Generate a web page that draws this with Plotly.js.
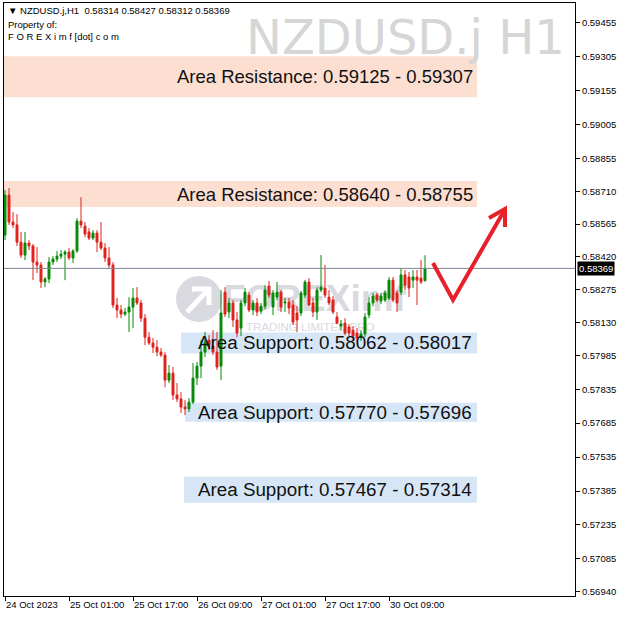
<!DOCTYPE html>
<html>
<head>
<meta charset="utf-8">
<script src="https://cdn.plot.ly/plotly-3.0.1.min.js"></script>
<style>html,body{margin:0;padding:0;background:#fff;}#chart{width:621px;height:618px;}</style>
</head>
<body>
<div id="chart"></div>
<script>
// ---- data (NZDUSD.j, H1) ----
const symbol = "NZDUSD.j";
const period = "H1";
const open = [0.58516,0.58693,0.58574,0.58561,0.58485,0.58428,0.58481,0.58468,0.58397,0.58384,
0.58309,0.58322,0.58397,0.58410,0.58423,0.58432,0.58441,0.58415,0.58446,0.58578,
0.58556,0.58530,0.58503,0.58525,0.58485,0.58459,0.58415,0.58384,0.58207,0.58185,
0.58167,0.58176,0.58198,0.58238,0.58216,0.58149,0.58065,0.58039,0.58021,0.57999,
0.57986,0.57875,0.57906,0.57809,0.57792,0.57756,0.57748,0.57778,0.57884,0.57937,
0.57999,0.58052,0.58026,0.57999,0.57937,0.58264,0.58176,0.58216,0.58141,0.58105,
0.58216,0.58251,0.58185,0.58216,0.58180,0.58202,0.58291,0.58198,0.58242,0.58264,
0.58216,0.58220,0.58207,0.58172,0.58172,0.58251,0.58309,0.58216,0.58176,0.58273,
0.58282,0.58242,0.58229,0.58154,0.58114,0.58127,0.58110,0.58096,0.58083,0.58061,
0.58079,0.58163,0.58216,0.58251,0.58225,0.58229,0.58238,0.58317,0.58260,0.58264,
0.58340,0.58331,0.58317,0.58331,0.58326,0.58314];
const high = [0.58715,0.58724,0.58618,0.58609,0.58530,0.58530,0.58494,0.58477,0.58463,0.58397,
0.58331,0.58419,0.58423,0.58446,0.58450,0.58450,0.58459,0.58454,0.58591,0.58684,
0.58574,0.58547,0.58538,0.58538,0.58574,0.58481,0.58463,0.58397,0.58238,0.58207,
0.58194,0.58242,0.58282,0.58286,0.58229,0.58167,0.58088,0.58061,0.58052,0.58017,
0.57999,0.57942,0.57933,0.57862,0.57822,0.57787,0.57796,0.57951,0.57955,0.58052,
0.58088,0.58074,0.58096,0.58088,0.58273,0.58286,0.58238,0.58229,0.58176,0.58229,
0.58282,0.58264,0.58229,0.58238,0.58216,0.58295,0.58313,0.58273,0.58309,0.58273,
0.58238,0.58238,0.58229,0.58202,0.58269,0.58317,0.58326,0.58238,0.58286,0.58428,
0.58384,0.58273,0.58247,0.58176,0.58141,0.58149,0.58123,0.58114,0.58105,0.58096,
0.58172,0.58242,0.58260,0.58260,0.58260,0.58273,0.58331,0.58331,0.58273,0.58370,
0.58362,0.58353,0.58362,0.58362,0.58406,0.58427];
const low = [0.58494,0.58561,0.58547,0.58468,0.58415,0.58406,0.58450,0.58317,0.58348,0.58282,
0.58286,0.58304,0.58384,0.58397,0.58410,0.58317,0.58406,0.58393,0.58437,0.58547,
0.58507,0.58494,0.58494,0.58441,0.58450,0.58397,0.58370,0.58194,0.58149,0.58149,
0.58158,0.58088,0.58105,0.58207,0.58132,0.58030,0.58030,0.57995,0.57981,0.57977,
0.57844,0.57862,0.57787,0.57778,0.57730,0.57721,0.57734,0.57769,0.57853,0.57884,
0.57977,0.58008,0.57986,0.57920,0.57875,0.58154,0.58149,0.58110,0.58065,0.58070,
0.58202,0.58176,0.58163,0.58158,0.58167,0.58189,0.58238,0.58163,0.58229,0.58176,
0.58176,0.58167,0.58119,0.58088,0.58158,0.58238,0.58202,0.58154,0.58141,0.58264,
0.58238,0.58207,0.58167,0.58123,0.58096,0.58074,0.58070,0.58052,0.58043,0.58048,
0.58065,0.58149,0.58202,0.58220,0.58211,0.58220,0.58229,0.58220,0.58176,0.58251,
0.58273,0.58242,0.58282,0.58207,0.58300,0.58312];
const close = [0.58693,0.58574,0.58561,0.58485,0.58428,0.58481,0.58468,0.58397,0.58384,0.58309,
0.58322,0.58397,0.58410,0.58423,0.58432,0.58441,0.58415,0.58446,0.58578,0.58561,
0.58521,0.58503,0.58525,0.58485,0.58459,0.58415,0.58384,0.58207,0.58185,0.58167,
0.58176,0.58198,0.58238,0.58216,0.58149,0.58065,0.58039,0.58021,0.57999,0.57986,
0.57875,0.57906,0.57809,0.57792,0.57756,0.57748,0.57778,0.57884,0.57937,0.57999,
0.58043,0.58026,0.57999,0.57933,0.58172,0.58167,0.58216,0.58141,0.58083,0.58216,
0.58264,0.58185,0.58216,0.58176,0.58202,0.58273,0.58251,0.58260,0.58264,0.58198,
0.58220,0.58194,0.58132,0.58141,0.58260,0.58309,0.58207,0.58176,0.58273,0.58286,
0.58251,0.58216,0.58176,0.58127,0.58123,0.58083,0.58083,0.58070,0.58061,0.58079,
0.58154,0.58216,0.58247,0.58229,0.58247,0.58260,0.58317,0.58229,0.58216,0.58340,
0.58295,0.58282,0.58331,0.58317,0.58309,0.58369];

const timeTickBars = [0, 16, 32, 48, 64, 80, 96];
const timeTickLabels = ["24 Oct 2023","25 Oct 01:00","25 Oct 17:00","26 Oct 09:00","27 Oct 01:00","27 Oct 17:00","30 Oct 09:00"];
const priceTicks = [0.59455,0.59305,0.59155,0.59005,0.58855,0.58710,0.58565,0.58420,0.58275,0.58130,0.57985,0.57835,0.57685,0.57535,0.57385,0.57235,0.57085,0.56940];

const resistLow  = [0.59125, 0.58640];
const resistHigh = [0.59307, 0.58755];
const supportA   = [0.58062, 0.57770, 0.57467];
const supportB   = [0.58017, 0.57696, 0.57314];

// ---- layout geometry ----
const W = 621, H = 618;
const PL = 4, PR = 575, PT = 3, PB = 596;
const bars = open.map((_, i) => i);
const xr = [-0.25, 142.5];
const yr = [0.56921, 0.59542];
const fx = px => xr[0] + (px - PL) / (PR - PL) * (xr[1] - xr[0]);
const fy = py => yr[1] - (py - PT) / (PB - PT) * (yr[1] - yr[0]);
const ppx = px => (px - PL) / (PR - PL);
const ppy = py => 1 - (py - PT) / (PB - PT);
const pricePerPx = (yr[1] - yr[0]) / (PB - PT);

const FONT = "Liberation Sans, Arial, sans-serif";
const last = open.length - 1;
const f5 = v => v.toFixed(5);

const traces = [];
// faint logo watermark (base subplot, beneath candles)
traces.push({
  type: 'scatter', mode: 'text', xaxis: 'x', yaxis: 'y',
  x: [fx(223), fx(246)], y: [fy(302), fy(328)],
  text: ['FOREXimf', 'TRADING LIMITED PRO'],
  textposition: ['middle right', 'middle right'],
  textfont: {family: FONT, size: [37, 11.5], color: '#d9d9e0', weight: [700, 400]},
  hoverinfo: 'skip', showlegend: false
});
// candles (overlay subplot, on top)
traces.push({
  type: 'candlestick', xaxis: 'x2', yaxis: 'y2',
  x: bars, open: open, high: high, low: low, close: close,
  increasing: {line: {color: '#078a07', width: 1}, fillcolor: '#078a07'},
  decreasing: {line: {color: '#e0221d', width: 1}, fillcolor: '#e0221d'},
  whiskerwidth: 0, hoverinfo: 'skip', showlegend: false
});

const shapes = [];
// resistance zones
for (let i = 0; i < resistLow.length; i++) {
  shapes.push({type: 'rect', layer: 'below', xref: 'x', yref: 'y',
    x0: xr[0], x1: fx(477), y0: resistLow[i], y1: resistHigh[i],
    fillcolor: '#fcdfd1', line: {width: 0}});
}
// support label boxes
const supLeft = [181, 185, 184];
const supHalf = [10.5, 9.5, 13];
for (let i = 0; i < supportA.length; i++) {
  const mid = (supportA[i] + supportB[i]) / 2;
  shapes.push({type: 'rect', layer: 'below', xref: 'x', yref: 'y',
    x0: fx(supLeft[i]), x1: fx(477), y0: mid - supHalf[i] * pricePerPx, y1: mid + supHalf[i] * pricePerPx,
    fillcolor: '#d6e6f6', line: {width: 0}});
}
// logo circle
shapes.push({type: 'circle', layer: 'below', xref: 'paper', yref: 'paper',
  x0: ppx(176), x1: ppx(222), y0: ppy(322), y1: ppy(276), fillcolor: '#d9d9e0', line: {width: 0}});
shapes.push({type: 'path', layer: 'below', xref: 'paper', yref: 'paper',
  path: `M ${ppx(187)} ${ppy(312)} L ${ppx(207)} ${ppy(291)} M ${ppx(192)} ${ppy(289)} L ${ppx(209)} ${ppy(289)} L ${ppx(209)} ${ppy(305)}`,
  line: {color: '#ffffff', width: 5}});
// current price line
shapes.push({type: 'line', xref: 'paper', yref: 'y', x0: 0, x1: 1,
  y0: close[last], y1: close[last], line: {color: '#7b8794', width: 1}});
// red arrow
shapes.push({type: 'path', xref: 'x', yref: 'y',
  path: `M ${fx(433)} ${fy(263)} L ${fx(453)} ${fy(300)} L ${fx(504)} ${fy(211)}`,
  line: {color: '#e8202a', width: 4}});
shapes.push({type: 'path', xref: 'x', yref: 'y',
  path: `M ${fx(489)} ${fy(218)} L ${fx(505)} ${fy(209)} L ${fx(505)} ${fy(227)}`,
  line: {color: '#e8202a', width: 4}});

const annotations = [];
const hdr = (t, y) => ({xref: 'paper', yref: 'paper', x: ppx(6), y: ppy(y), xanchor: 'left', yanchor: 'middle',
  text: t, showarrow: false, font: {family: FONT, size: 9.5, color: '#000'}});
annotations.push(hdr(`▼ ${symbol},${period}  ${f5(open[last])} ${f5(high[last])} ${f5(low[last])} ${f5(close[last])}`, 11));
annotations.push(hdr('Property of:', 24));
annotations.push(hdr('F O R E X i m f [dot] c o m', 37));
annotations.push({xref: 'paper', yref: 'paper', x: ppx(566), y: ppy(37), xanchor: 'right', yanchor: 'middle',
  text: `${symbol} ${period}`, showarrow: false, borderpad: 0,
  font: {family: 'DejaVu Sans, sans-serif', size: 48, color: '#d6d6d6'}});
for (let i = 0; i < resistLow.length; i++) {
  annotations.push({xref: 'x', yref: 'y', x: fx(474), y: (resistLow[i] + resistHigh[i]) / 2,
    xanchor: 'right', yanchor: 'middle', showarrow: false, borderpad: 0,
    text: `Area Resistance: ${f5(resistLow[i])} - ${f5(resistHigh[i])}`,
    font: {family: FONT, size: 18.5, color: '#111'}});
}
for (let i = 0; i < supportA.length; i++) {
  annotations.push({xref: 'x', yref: 'y', x: fx(474), y: (supportA[i] + supportB[i]) / 2,
    xanchor: 'right', yanchor: 'middle', showarrow: false,
    text: `Area Support: ${f5(supportA[i])} - ${f5(supportB[i])}`,
    font: {family: FONT, size: 18.8, color: '#111'}});
}
// current price tag
annotations.push({xref: 'paper', yref: 'y', x: 1, y: close[last], xanchor: 'left', yanchor: 'middle',
  xshift: 2, text: f5(close[last]), showarrow: false, bgcolor: '#000', borderpad: 1,
  font: {family: FONT, size: 9.5, color: '#fff'}});

const axisFont = {family: FONT, size: 9.5, color: '#000'};
const layout = {
  width: W, height: H,
  margin: {l: PL, r: W - PR, t: PT, b: H - PB, pad: 0},
  paper_bgcolor: '#fff', plot_bgcolor: '#fff',
  showlegend: false,
  xaxis: {range: xr, showgrid: false, zeroline: false, showline: true, mirror: true,
    linecolor: '#000', linewidth: 1, ticks: 'outside', ticklen: 4, tickcolor: '#000',
    tickvals: timeTickBars, ticktext: timeTickLabels, tickfont: axisFont,
    ticklabelposition: 'outside right', rangeslider: {visible: false}, fixedrange: true},
  yaxis: {range: yr, side: 'right', showgrid: false, zeroline: false, showline: true, mirror: true,
    linecolor: '#000', linewidth: 1, ticks: 'outside', ticklen: 4, tickcolor: '#000',
    tickvals: priceTicks, ticktext: priceTicks.map(f5), tickfont: axisFont, fixedrange: true},
  xaxis2: {overlaying: 'x', range: xr, visible: false, rangeslider: {visible: false}, fixedrange: true},
  yaxis2: {overlaying: 'y', range: yr, visible: false, fixedrange: true},
  shapes: shapes,
  annotations: annotations
};
Plotly.newPlot('chart', traces, layout, {displayModeBar: false, staticPlot: true});
</script>
</body>
</html>
